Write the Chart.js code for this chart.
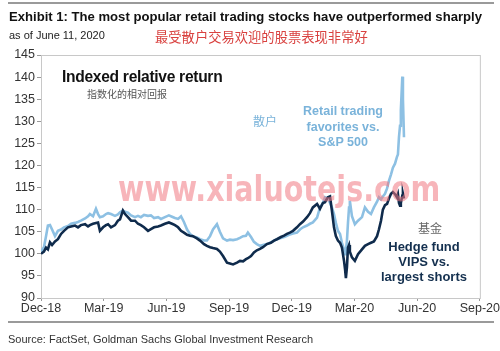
<!DOCTYPE html>
<html>
<head>
<meta charset="utf-8">
<script src="https://cdn.jsdelivr.net/npm/chart.js@4"></script>
<style>
  body { margin: 0; background: #fff; }
  #wrap { position: relative; width: 500px; height: 351px; overflow: hidden; font-family: "Liberation Sans", Arial, sans-serif; }
  #wrap canvas { position: absolute; left: 0; top: 0; }
  .t { position: absolute; white-space: nowrap; }
  .rule { position: absolute; left: 8px; width: 486px; background: #9a9a9a; }
</style>
</head>
<body>
<div id="wrap">
  <canvas id="id-chart" width="500" height="351"></canvas>
  <div class="rule" style="top:2px;height:2px;"></div>
  <div class="t" style="left:9px;top:9px;font-size:13.1px;font-weight:bold;color:#111;">Exhibit 1: The most popular retail trading stocks have outperformed sharply</div>
  <div class="t" style="left:9px;top:29px;font-size:11px;color:#222;">as of June 11, 2020</div>
  <div class="t" style="left:155px;top:27px;font-size:13.3px;color:#d9413f;font-family:'Noto Sans CJK SC';">最受散户交易欢迎的股票表现非常好</div>
  <div class="t" style="left:62px;top:68px;font-size:15.6px;font-weight:bold;color:#111;letter-spacing:-0.3px;">Indexed relative return</div>
  <div class="t" style="left:87px;top:86px;font-size:10px;color:#555;font-family:'Noto Sans CJK SC';">指数化的相对回报</div>
  <div class="t" style="left:253px;top:112px;font-size:12px;color:#7ab3da;font-family:'Noto Sans CJK SC';">散户</div>
  <div class="t" style="left:293px;top:104px;width:100px;text-align:center;font-size:12.5px;font-weight:bold;color:#7ab3da;line-height:15.5px;">Retail trading<br>favorites vs.<br>S&amp;P 500</div>
  <div class="t" style="left:418px;top:219px;font-size:12px;color:#666;font-family:'Noto Sans CJK SC';">基金</div>
  <div class="t" style="left:374px;top:239px;width:100px;text-align:center;font-size:13px;font-weight:bold;color:#14304f;line-height:15px;">Hedge fund<br>VIPS vs.<br>largest shorts</div>
  <div id="id-mark" class="t" style="left:118px;top:168px;font-size:36px;font-weight:bold;color:rgba(240,120,130,0.55);font-family:'DejaVu Sans';transform-origin:0 0;">www.xialuotejs.com</div>
  <div class="rule" style="top:321px;height:1.5px;"></div>
  <div class="t" style="left:8px;top:333px;font-size:11px;color:#333;">Source: FactSet, Goldman Sachs Global Investment Research</div>
</div>
<script>
// months after end of Dec-18
const months = [0, 0.14, 0.24, 0.33, 0.43, 0.53, 0.67, 0.81, 0.96, 1.10, 1.29, 1.44, 1.63, 1.77, 1.91, 2.11, 2.25, 2.34, 2.49, 2.63,
  2.73, 2.82, 2.97, 3.11, 3.21, 3.35, 3.54, 3.68, 3.78, 3.92, 4.02, 4.16, 4.31, 4.50, 4.64, 4.78, 4.93, 5.12, 5.26, 5.41,
  5.60, 5.74, 5.93, 6.12, 6.27, 6.41, 6.56, 6.70, 6.84, 6.99, 7.13, 7.27, 7.46, 7.61, 7.80, 7.94, 8.09, 8.23, 8.42, 8.56,
  8.71, 8.90, 9.04, 9.19, 9.38, 9.52, 9.67, 9.81, 9.90, 10.05, 10.19, 10.33, 10.48, 10.62, 10.81, 11.00, 11.15, 11.29, 11.48, 11.63,
  11.77, 11.91, 12.06, 12.25, 12.39, 12.54, 12.73, 12.87, 13.01, 13.21, 13.35, 13.49, 13.59, 13.73, 13.83, 13.92, 14.02, 14.11, 14.21, 14.31,
  14.40, 14.50, 14.55, 14.59, 14.64, 14.69, 14.74, 14.78, 14.88, 15.02, 15.17, 15.36, 15.50, 15.65, 15.79, 15.93, 16.08, 16.17, 16.27, 16.36,
  16.46, 16.56, 16.65, 16.75, 16.84, 16.94, 17.03, 17.08, 17.13, 17.18, 17.22, 17.29, 17.32, 17.37];

const retail_favorites = [100.5, 101.5, 104, 106.4, 106.5, 105.5, 104, 105.2, 105.5, 106, 106.3, 106.8, 107, 107.2, 107.5, 108, 108.5, 109, 108.5, 110.2,
  109, 108.3, 108.5, 109, 109.2, 109, 108.6, 108.9, 109.4, 109.8, 109.5, 109.3, 108.7, 108.3, 108.6, 108.3, 108.8, 108.6, 108.7, 108.1,
  108.3, 107.9, 108.3, 108.7, 108.4, 108.1, 107.9, 108.5, 107.2, 105.5, 104.5, 104, 103.7, 103.3, 103, 103, 104, 105.5, 106.7, 105,
  103.5, 103, 103.2, 103.1, 103.3, 103.6, 104, 104.1, 104.8, 103.8, 102.7, 102.2, 101.8, 102, 102.2, 102.6, 103, 103.3, 103.6, 103.8,
  104.1, 104.4, 104.6, 104.8, 105.5, 106, 106.4, 106.8, 107.1, 108.2, 110.5, 111.5, 112.8, 112.5, 111.5, 110.5, 109, 107, 105.2, 104.5,
  102.5, 101, 99.9, 100.5, 103, 107, 110.5, 112, 108.5, 106.7, 107.5, 108.3, 110.5, 109.5, 109, 110.5, 111.8, 112.8, 112.3, 113,
  113.6, 114.8, 116.5, 118, 119.5, 120.4, 121.9, 122.5, 126.4, 129, 132.5, 140.1, 135, 126.4];

const hedge_fund_vips = [100, 100.5, 101.4, 101, 102.6, 102, 102.8, 103.3, 104.5, 105.2, 106, 106.2, 106.4, 106, 106.5, 106.7, 106.2, 106.5, 106.8, 107,
  107.1, 105.2, 106, 106.5, 106.7, 106, 106.5, 107.5, 107.8, 109.8, 109, 108.3, 107.5, 107.5, 106.8, 106.5, 106, 105.2, 105.6, 106,
  106.2, 106.4, 106.8, 107.1, 106.8, 106.5, 106, 105.2, 104.8, 104.3, 104.1, 104, 103.5, 103, 102.2, 101.8, 101.5, 101.3, 101.1, 100.5,
  99.5, 98, 97.8, 97.6, 98, 98.4, 98.3, 98.8, 99, 99.5, 100.3, 100.8, 101.1, 101.5, 102.2, 102.5, 103, 103.3, 103.8, 104.1,
  104.5, 104.8, 105.2, 106, 106.7, 107.3, 108.3, 109.2, 110.5, 111.3, 110.2, 111.5, 111.7, 112.8, 113, 109.8, 106, 104, 103, 102.5,
  101.4, 98.4, 96.5, 94.5, 97, 101.4, 102, 100.5, 99.2, 98.4, 99.9, 101, 101.8, 102.2, 102.5, 102.8, 104, 105.5, 107.5, 110,
  111, 111.3, 112.5, 113.6, 114, 113.5, 112.8, 113.5, 111.5, 110.9, 111.5, 113.2, 113.6, 112.5];

const x_tick_labels = ['Dec-18', 'Mar-19', 'Jun-19', 'Sep-19', 'Dec-19', 'Mar-20', 'Jun-20', 'Sep-20'];
const y_ticks_min = 90;
const y_ticks_max = 145;

const frame_plugin =
{
  id: 'frame',
  beforeDatasetsDraw(chart)
  {
    const a = chart.chartArea;
    const ctx = chart.ctx;
    ctx.save();
    ctx.strokeStyle = '#c8c8c8';
    ctx.lineWidth = 1;
    ctx.strokeRect(a.left + 0.5, a.top + 0.5, a.right - a.left, a.bottom - a.top);
    ctx.restore();
  }
};

function ToPoints(values)
{
  return values.map((v, i) => ({ x: months[i], y: v }));
}

document.addEventListener("DOMContentLoaded", function()
{
  // squeeze the watermark to its width in the picture
  const mark = document.getElementById('id-mark');
  mark.style.transform = 'scaleX(' + (322 / mark.offsetWidth) + ')';

  const ctx = document.getElementById('id-chart').getContext('2d');

  new Chart(ctx,
  {
    type: 'line',
    data:
    {
      datasets:
      [
        {
          label: 'Hedge fund VIPS vs. largest shorts',
          data: ToPoints(hedge_fund_vips),
          borderColor: '#0f2b4c',
          borderWidth: 2.6,
          pointRadius: 0,
          tension: 0
        },
        {
          label: 'Retail trading favorites vs. S&P 500',
          data: ToPoints(retail_favorites),
          borderColor: '#8dc0e3',
          borderWidth: 2.6,
          pointRadius: 0,
          tension: 0
        }
      ]
    },
    options:
    {
      responsive: false,
      animation: false,
      layout: { padding: { left: 0, right: 20, top: 55, bottom: 0 } },
      plugins: { legend: { display: false }, tooltip: { enabled: false } },
      scales:
      {
        x:
        {
          type: 'linear',
          min: 0,
          max: 21,
          afterFit: (s) => { s.height = 53; },
          ticks:
          {
            stepSize: 3,
            autoSkip: false,
            maxRotation: 0,
            padding: 0,
            color: '#333',
            font: { family: 'Liberation Sans', size: 12.5 },
            callback: (v) => x_tick_labels[Math.round(v / 3)]
          },
          grid: { drawOnChartArea: false, drawTicks: true, tickLength: 3, color: '#999' },
          border: { color: '#999' }
        },
        y:
        {
          min: y_ticks_min,
          max: y_ticks_max,
          afterFit: (s) => { s.width = 41; },
          ticks:
          {
            stepSize: 5,
            padding: 2,
            color: '#333',
            font: { family: 'Liberation Sans', size: 12.5 }
          },
          grid: { drawOnChartArea: false, drawTicks: true, tickLength: 4, color: '#999' },
          border: { color: '#999' }
        }
      }
    },
    plugins: [frame_plugin]
  });
});
</script>
</body>
</html>
